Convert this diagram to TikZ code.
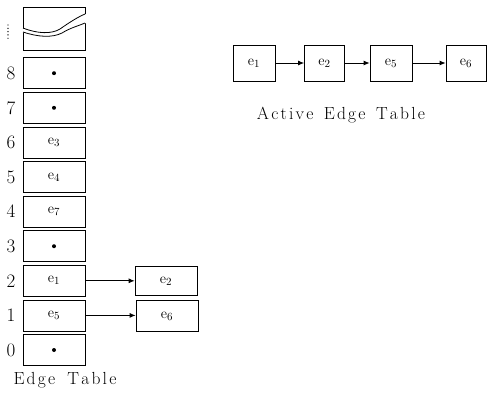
\documentclass[tikz,border=0pt]{standalone}
\usetikzlibrary{arrows.meta}
\newcommand{\ls}{\kern2.2pt}
\begin{document}
\begin{tikzpicture}[x=1pt,y=-1pt,
  cell/.style={draw, line width=0.8pt, minimum width=62pt, minimum height=31pt, inner sep=0pt,
    font=\fontsize{15}{15}\selectfont},
  aetcell/.style={draw, line width=0.8pt, minimum width=42pt, minimum height=36pt, inner sep=0pt,
    font=\fontsize{15}{15}\selectfont},
  idx/.style={font=\fontsize{19}{19}\selectfont, inner sep=0pt},
  caption/.style={font=\fontsize{17.5}{17.5}\selectfont, inner sep=0pt},
  link/.style={-{Latex[length=6pt,width=5pt]}, line width=0.8pt},
  nullptr/.style={fill=black}]
\useasboundingbox (0,0) rectangle (489,392);

% edge table buckets 0..8
\foreach \i/\lab in {0/,1/$\mathrm{e}_5$,2/$\mathrm{e}_1$,3/,4/$\mathrm{e}_7$,5/$\mathrm{e}_4$,6/$\mathrm{e}_3$,7/,8/} {
  \node[cell] (r\i) at (54,{350-34.6*\i}) {\lab};
  \node[idx] (n\i) at (11,{350-34.6*\i}) {\i};
}
% empty buckets
\foreach \i in {0,3,7,8} \fill[nullptr] (r\i.center) circle (2pt);

% truncated top of the table
\node[draw, line width=0.8pt, minimum width=62pt, minimum height=43pt, inner sep=0pt] (rtop) at (54,28.5) {};
\fill[white] (22,28) .. controls (38,34) and (52,34) .. (60,29) .. controls (70,22) and (78,17) .. (86,14)
  -- (86,23) .. controls (78,26) and (70,28) .. (62,33) .. controls (52,38) and (38,37) .. (22,32) -- cycle;
\draw[line width=0.8pt] (23,28) .. controls (38,34) and (52,34) .. (60,29) .. controls (70,22) and (78,17) .. (85,14);
\draw[line width=0.8pt] (23,32) .. controls (38,37) and (52,38) .. (62,33) .. controls (70,28) and (78,26) .. (85,23);
\foreach \k in {0,...,4} \fill (8,{25+3.3*\k}) circle (0.7pt);

% chained edges in buckets 2 and 1
\node[cell, minimum height=29pt] (b2) at (166,281) {$\mathrm{e}_2$};
\node[cell] (b1) at (167,316) {$\mathrm{e}_6$};
\draw[link] (r2.east) -- (r2.east -| b2.west);
\draw[link] (r1.east) -- (r1.east -| b1.west);

\node[caption] (etl) at (65,380) {E\ls d\ls g\ls e\hspace{0.7em}T\ls a\ls b\ls l\ls e};

% active edge table
\node[aetcell] (a1) at (254,63) {$\mathrm{e}_1$};
\node[aetcell, minimum width=40pt] (a2) at (324.5,63) {$\mathrm{e}_2$};
\node[aetcell] (a3) at (391,63) {$\mathrm{e}_5$};
\node[aetcell, minimum width=40pt] (a4) at (466,63) {$\mathrm{e}_6$};
\draw[link] (a1) -- (a2);
\draw[link] (a2) -- (a3);
\draw[link] (a3) -- (a4);

\node[caption] (aetl) at (341,115) {A\ls c\ls t\ls i\ls v\ls e\hspace{0.6em}E\ls d\ls g\ls e\hspace{0.6em}T\ls a\ls b\ls l\ls e};
\end{tikzpicture}
\end{document}
